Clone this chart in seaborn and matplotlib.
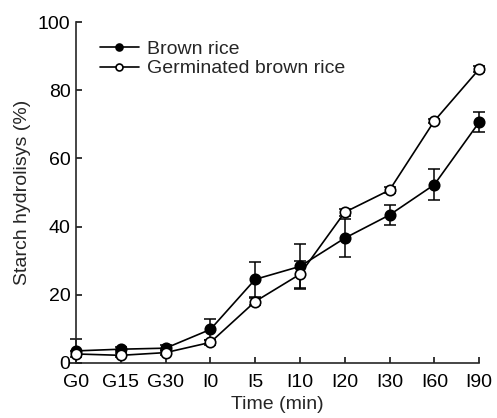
import matplotlib
matplotlib.use("Agg")
import matplotlib.pyplot as plt
import numpy as np
import pandas as pd
import seaborn as sns

times = ["G0", "G15", "G30", "I0", "I5", "I10", "I20", "I30", "I60", "I90"]
brown = [3.5, 4.0, 4.3, 9.8, 24.5, 28.3, 36.6, 43.4, 52.3, 70.6]
brown_err = [3.5, 0.6, 0.8, 3.2, 5.2, 6.5, 5.6, 3.0, 4.5, 2.9]
germ = [2.6, 2.2, 3.0, 6.0, 18.0, 26.0, 44.2, 50.7, 71.0, 86.2]
germ_err = [0.8, 0.6, 0.8, 0.8, 1.0, 4.0, 1.0, 0.8, 0.6, 0.8]

sns.set_style("ticks")
plt.rcParams['font.family'] = ['Liberation Sans', 'DejaVu Sans']

df = pd.DataFrame({
    "pos": list(range(len(times))) * 2,
    "value": brown + germ,
    "series": ["Brown rice"] * len(times) + ["Germinated brown rice"] * len(times),
})

fig = plt.figure(figsize=(4.97, 4.18), dpi=100)
ax = fig.add_axes([0.153, 0.132, 0.811, 0.815])

x = np.arange(len(times))
ax.errorbar(x, brown, yerr=brown_err, fmt="none", ecolor="black", elinewidth=1.1,
            capsize=4, capthick=1.1, zorder=1)
ax.errorbar(x, germ, yerr=germ_err, fmt="none", ecolor="black", elinewidth=1.1,
            capsize=4, capthick=1.1, zorder=1)

sns.lineplot(data=df[df.series == "Brown rice"], x="pos", y="value", ax=ax,
             color="black", lw=1.2, marker="o", markersize=7.5,
             markerfacecolor="black", markeredgecolor="black", markeredgewidth=1.2,
             label="Brown rice", zorder=3)
sns.lineplot(data=df[df.series == "Germinated brown rice"], x="pos", y="value", ax=ax,
             color="black", lw=1.2, marker="o", markersize=7.5,
             markerfacecolor="white", markeredgecolor="black", markeredgewidth=1.2,
             label="Germinated brown rice", zorder=3)

ax.set_xlim(0, len(times) - 1)
ax.set_ylim(0, 100)
ax.set_xticks(x)
ax.set_xticklabels(times)
ax.set_yticks([0, 20, 40, 60, 80, 100])
ax.tick_params(direction="in", length=4, width=1.1, labelsize=14, colors="black")
ax.tick_params(axis="x", pad=8)
ax.tick_params(axis="y", pad=4)
for s in ["left", "bottom"]:
    ax.spines[s].set_linewidth(1.2)
sns.despine(ax=ax)
for c in ax.get_children():
    try:
        c.set_clip_on(False)
    except Exception:
        pass

ax.set_xlabel("Time (min)", fontsize=14, labelpad=4)
ax.set_ylabel("Starch hydrolisys (%)", fontsize=14, labelpad=5)

leg = ax.legend(loc="upper left", bbox_to_anchor=(0.04, 0.97), frameon=False, fontsize=14,
                handlelength=2.0, handletextpad=0.4, labelspacing=0.1, borderaxespad=0)
for h in leg.legend_handles:
    h.set_markersize(5)

fig.savefig("out.png", dpi=100)
